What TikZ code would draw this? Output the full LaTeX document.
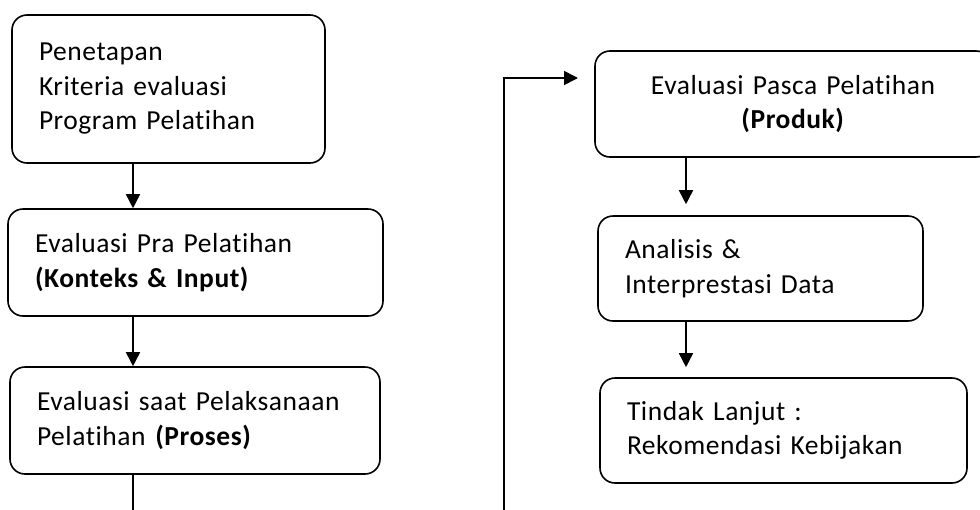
\documentclass[tikz,border=0pt]{standalone}
\usepackage{fontspec}
\setmainfont{Carlito}[Ligatures={NoCommon}, LetterSpace=2]
\usetikzlibrary{arrows.meta}
\tikzset{
  box/.style={draw, line width=1.6pt, rounded corners=15pt, inner xsep=27pt, inner ysep=0pt,
    font=\fontsize{27.5}{34.5}\selectfont, align=left},
  arr/.style={line width=1.6pt, -{Triangle[length=14pt,width=14pt]}},
  ln/.style={line width=1.6pt}
}
\begin{document}
\begin{tikzpicture}[x=1pt,y=-1pt]
\useasboundingbox (0,0) rectangle (980,509);
\clip (0,0) rectangle (980,509);
\node[box, minimum width=313pt, minimum height=148pt, text width=259pt] (b1) at (168.5,89)
  {Penetapan\\Kriteria evaluasi\\Program Pelatihan};
\node[box, minimum width=375pt, minimum height=107pt, text width=321pt] (b2) at (195.5,262.5)
  {Evaluasi Pra Pelatihan\\\textbf{(Konteks \& Input)}};
\node[box, minimum width=370pt, minimum height=107pt, text width=316pt] (b3) at (195,420.5)
  {Evaluasi saat Pelaksanaan\\Pelatihan \textbf{(Proses)}};
\node[box, minimum width=396pt, minimum height=106pt, text width=342pt, align=center] (b4) at (793,104)
  {Evaluasi Pasca Pelatihan\\\textbf{(Produk)}};
\node[box, minimum width=325pt, minimum height=105pt, text width=271pt] (b5) at (760.5,268.5)
  {Analisis \&\\Interprestasi Data};
\node[box, minimum width=367pt, minimum height=105pt, text width=313pt] (b6) at (783.5,430.5)
  {Tindak Lanjut :\\Rekomendasi Kebijakan};
\coordinate (xl) at (133,0);
\coordinate (xr) at (686,0);
\coordinate (bl) at (133,515);
\coordinate (br) at (504,515);
\coordinate (turn) at (504,78);
\coordinate (tip) at (578,78);
\draw[arr] (b1.south -| xl) -- (b2.north -| xl);
\draw[arr] (b2.south -| xl) -- (b3.north -| xl);
\draw[ln] (b3.south -| xl) -- (bl);
\draw[arr] (br) -- (turn) -- (tip);
\draw[arr] (b4.south -| xr) -- ([yshift=11pt]b5.north -| xr);
\draw[arr] (b5.south -| xr) -- ([yshift=10pt]b6.north -| xr);
\end{tikzpicture}
\end{document}
